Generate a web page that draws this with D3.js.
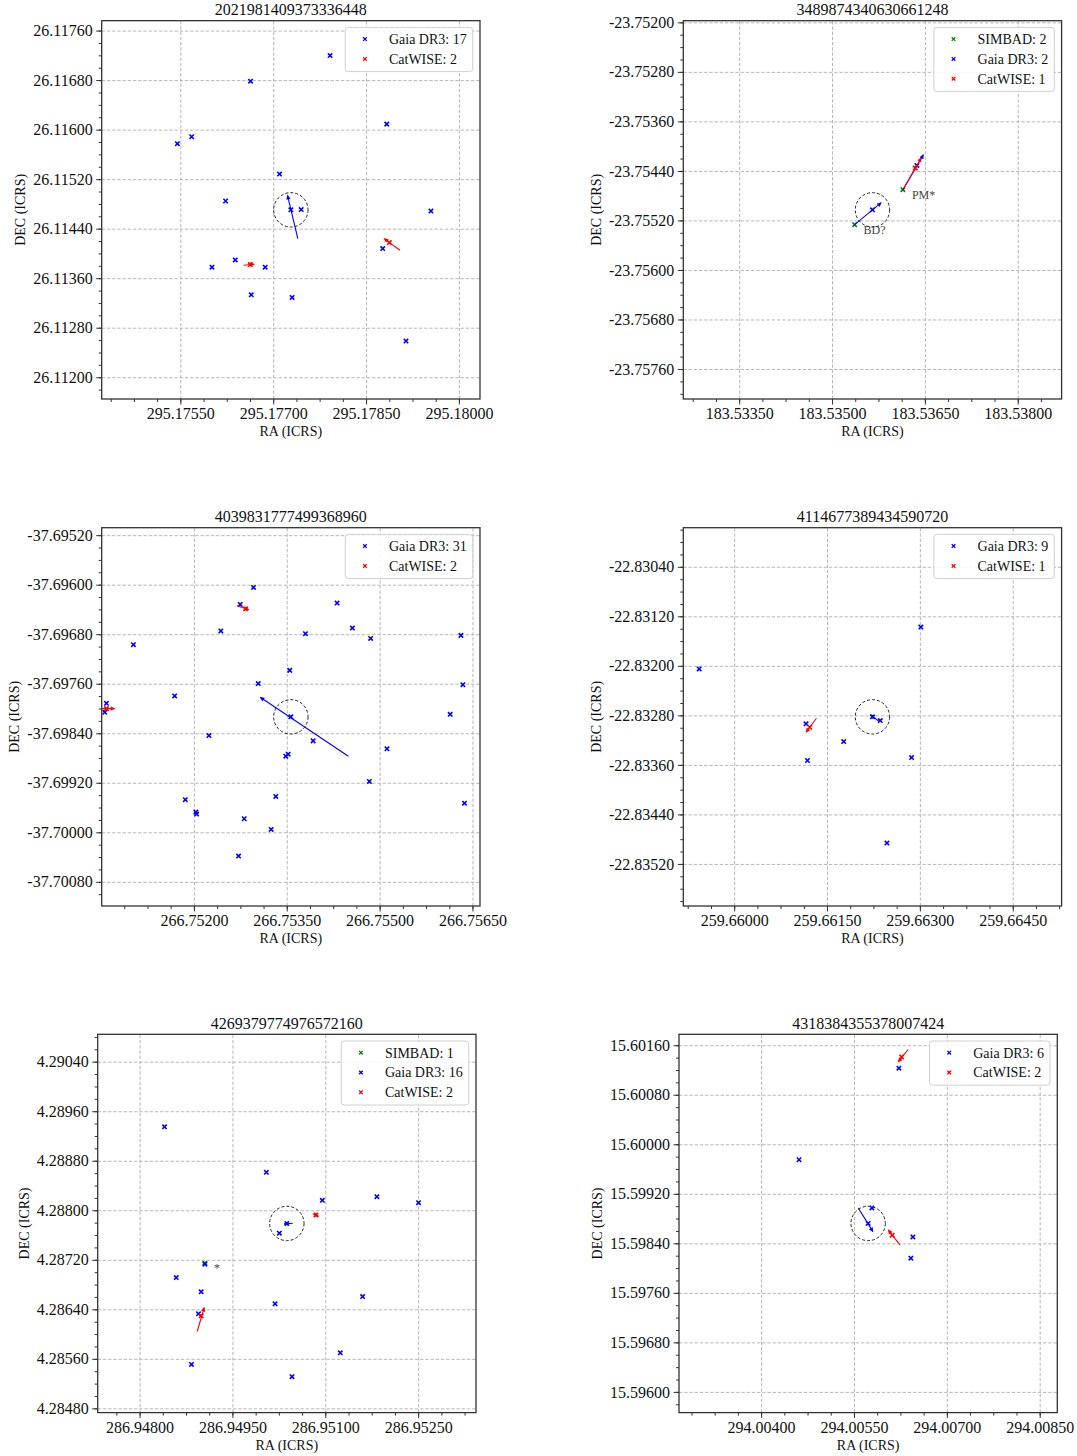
<!DOCTYPE html>
<html>
<head>
<meta charset="utf-8">
<script src="https://cdn.jsdelivr.net/npm/d3@7"></script>
<style>
  body { margin: 0; background: #fff; }
  svg { display: block; }
</style>
</head>
<body>
<svg id="fig" width="1077" height="1456"></svg>
<script>
// Target sources (Gaia DR3 source_id and position); each panel is centred on one.
const targets = [
  { id: "2021981409373336448", ra: 295.177285, dec: 26.114704 },
  { id: "3489874340630661248", ra: 183.535653, dec: -23.755029 },
  { id: "4039831777499368960", ra: 266.753566, dec: -37.698135 },
  { id: "4114677389434590720", ra: 259.662234, dec: -22.832824 },
  { id: "4269379774976572160", ra: 286.950379, dec: 4.287787 },
  { id: "4318384355378007424", ra: 294.005729, dec: 15.598721 }
];

// Labelled RA ticks for each panel (DEC ticks fall on multiples of 0.0008)
const raTicks = [
  [295.1755, 295.1770, 295.1785, 295.1800],
  [183.5335, 183.5350, 183.5365, 183.5380],
  [266.7520, 266.7535, 266.7550, 266.7565],
  [259.6600, 259.6615, 259.6630, 259.6645],
  [286.9480, 286.9495, 286.9510, 286.9525],
  [294.0040, 294.0055, 294.0070, 294.0085]
];

// SIMBAD objects: [ra, dec, object type]
const simbadSources = {
  "3489874340630661248": [[183.535365, -23.755268, "BD?"], [183.536145, -23.754703, "PM*"]],
  "4269379774976572160": [[286.949055, 4.287145, "*"]]
};

// Gaia DR3 neighbours: [ra, dec]
const gaiaSources = {
  "2021981409373336448": [
    [295.177919, 26.117197], [295.176634, 26.116783], [295.178834, 26.116089],
    [295.175683, 26.115885], [295.175452, 26.115772], [295.177102, 26.115282],
    [295.176231, 26.114847], [295.177285, 26.114704], [295.177452, 26.114708],
    [295.179548, 26.114685], [295.178769, 26.114079], [295.176387, 26.113895],
    [295.176011, 26.113777], [295.176871, 26.113777], [295.176645, 26.113331],
    [295.177306, 26.113289], [295.179145, 26.112584]
  ],
  "3489874340630661248": [
    [183.535653, -23.755029], [183.536371, -23.754311]
  ],
  "4039831777499368960": [
    [266.752963, -37.696045], [266.752748, -37.696319], [266.754313, -37.696297],
    [266.752435, -37.696748], [266.753802, -37.696792], [266.754560, -37.696700],
    [266.754855, -37.696868], [266.756313, -37.696819], [266.751023, -37.696969],
    [266.753548, -37.697384], [266.753039, -37.697598], [266.756345, -37.697615],
    [266.751689, -37.697797], [266.750587, -37.697916], [266.750560, -37.698061],
    [266.753566, -37.698135], [266.756140, -37.698094], [266.752242, -37.698437],
    [266.753926, -37.698523], [266.755119, -37.698652], [266.753484, -37.698771],
    [266.753523, -37.698739], [266.754834, -37.699179], [266.751861, -37.699474],
    [266.753323, -37.699421], [266.756371, -37.699529], [266.752032, -37.699674],
    [266.752044, -37.699706], [266.752813, -37.699781], [266.753248, -37.699953],
    [266.752721, -37.700384]
  ],
  "4114677389434590720": [
    [259.659435, -22.832050], [259.663016, -22.831373], [259.661161, -22.832937],
    [259.661184, -22.833529], [259.661769, -22.833223], [259.662234, -22.832824],
    [259.662361, -22.832884], [259.662866, -22.833481], [259.662468, -22.834863]
  ],
  "4269379774976572160": [
    [286.948403, 4.289348], [286.950048, 4.288613], [286.950952, 4.288161],
    [286.951834, 4.288219], [286.952506, 4.288123], [286.950379, 4.287787],
    [286.950258, 4.287629], [286.949055, 4.287129], [286.948592, 4.286913],
    [286.948995, 4.286682], [286.950189, 4.286489], [286.951603, 4.286606],
    [286.948952, 4.286327], [286.948839, 4.285510], [286.951242, 4.285698],
    [286.950463, 4.285311]
  ],
  "4318384355378007424": [
    [294.006226, 15.601229], [294.004613, 15.599750], [294.005790, 15.598971],
    [294.005729, 15.598721], [294.006452, 15.598503], [294.006419, 15.598160]
  ]
};

// CatWISE neighbours: [ra, dec]
const catwiseSources = {
  "2021981409373336448": [[295.178876, 26.114176], [295.176629, 26.113821]],
  "3489874340630661248": [[183.536344, -23.754355]],
  "4039831777499368960": [[266.752834, -37.696389], [266.750587, -37.698002]],
  "4114677389434590720": [[259.661221, -22.832992]],
  "4269379774976572160": [[286.950850, 4.287924], [286.948995, 4.286295]],
  "4318384355378007424": [[294.006269, 15.601411], [294.006118, 15.598531]]
};

// Proper-motion tracks: [ra_from, dec_from, ra_to, dec_to], arrow at the "to" end
const gaiaMotion = {
  "2021981409373336448": [[295.177398, 26.114240, 295.177231, 26.114939]],
  "3489874340630661248": [
    [183.535365, -23.755268, 183.535795, -23.754913],
    [183.536145, -23.754703, 183.536477, -23.754139]
  ],
  "4039831777499368960": [[266.754495, -37.698771, 266.753071, -37.697819]],
  "4114677389434590720": [[259.662339, -22.832895, 259.662205, -22.832792]],
  "4269379774976572160": [[286.950474, 4.287790, 286.950334, 4.287779]],
  "4318384355378007424": [[294.005569, 15.598971, 294.005806, 15.598589]]
};
const catwiseMotion = {
  "2021981409373336448": [
    [295.179048, 26.114052, 295.178790, 26.114240],
    [295.176521, 26.113810, 295.176694, 26.113826]
  ],
  "3489874340630661248": [[183.536160, -23.754680, 183.536440, -23.754190]],
  "4039831777499368960": [
    [266.752694, -37.696340, 266.752887, -37.696405],
    [266.750400, -37.698002, 266.750721, -37.698002]
  ],
  "4114677389434590720": [[259.661329, -22.832847, 259.661161, -22.833073]],
  "4269379774976572160": [
    [286.948931, 4.286042, 286.949044, 4.286429],
    [286.950800, 4.287940, 286.950890, 4.287905]
  ],
  "4318384355378007424": [
    [294.006376, 15.601531, 294.006215, 15.601331],
    [294.006242, 15.598374, 294.006053, 15.598616]
  ]
};

// ---- drawing -------------------------------------------------------------
const SIZE = 378.3;                 // square plot area, px
const HALF = 11 / 3600;             // half field of view, deg
const MATCH_R = 1 / 3600;           // match circle radius, deg
const X_MINOR = 0.000375;
const Y_MAJOR = 0.0008, Y_MINOR = 0.0002;
const FONT = "'Liberation Serif', 'Times New Roman', serif";
const frames = [[101.7, 20.7], [683.3, 20.7], [101.7, 527.7], [683.3, 527.7], [97.7, 1034.3], [679, 1034.3]];
const catalogs = [
  { key: "SIMBAD", label: "SIMBAD", color: "#008000", src: simbadSources, motion: null },
  { key: "Gaia", label: "Gaia DR3", color: "#0000ff", src: gaiaSources, motion: gaiaMotion },
  { key: "CatWISE", label: "CatWISE", color: "#ff0000", src: catwiseSources, motion: catwiseMotion }
];

const svg = d3.select("#fig");
const defs = svg.append("defs");
catalogs.forEach(c => {
  defs.append("marker")
    .attr("id", "arrow-" + c.key)
    .attr("viewBox", "0 0 10 10")
    .attr("refX", 9).attr("refY", 5)
    .attr("markerUnits", "userSpaceOnUse")
    .attr("markerWidth", 5).attr("markerHeight", 4.5)
    .attr("orient", "auto")
    .append("path").attr("d", "M0,0L10,5L0,10Z").attr("fill", c.color);
});

function stepTicks(lo, hi, step) {
  const a = Math.ceil(lo / step - 1e-7), b = Math.floor(hi / step + 1e-7);
  return d3.range(a, b + 1).map(i => i * step);
}
function anchoredTicks(anchor, lo, hi, step) {
  const a = Math.ceil((lo - anchor) / step - 1e-7), b = Math.floor((hi - anchor) / step + 1e-7);
  return d3.range(a, b + 1).map(k => anchor + k * step);
}
function cross(r) { return `M${-r},${-r}L${r},${r}M${-r},${r}L${r},${-r}`; }

targets.forEach((t, i) => {
  const [L, T] = frames[i];
  const g = svg.append("g").attr("transform", `translate(${L},${T})`);
  const x = d3.scaleLinear().domain([t.ra - HALF, t.ra + HALF]).range([0, SIZE]);
  const y = d3.scaleLinear().domain([t.dec - HALF, t.dec + HALF]).range([SIZE, 0]);
  const xMaj = raTicks[i];
  const xMin = anchoredTicks(xMaj[0], t.ra - HALF, t.ra + HALF, X_MINOR);
  const yMaj = stepTicks(t.dec - HALF, t.dec + HALF, Y_MAJOR);
  const yMin = stepTicks(t.dec - HALF, t.dec + HALF, Y_MINOR);

  const clipId = "clip" + i;
  defs.append("clipPath").attr("id", clipId)
    .append("rect").attr("width", SIZE).attr("height", SIZE);

  // grid
  const grid = g.append("g").attr("class", "grid");
  grid.append("g").attr("transform", `translate(0,${SIZE})`)
    .call(d3.axisBottom(x).tickValues(xMaj).tickSize(-SIZE).tickFormat(""));
  grid.append("g")
    .call(d3.axisLeft(y).tickValues(yMaj).tickSize(-SIZE).tickFormat(""));
  grid.selectAll(".domain").remove();
  grid.selectAll(".tick line")
    .attr("stroke", "#b0b0b0").attr("stroke-width", 0.9).attr("stroke-dasharray", "3.4,1.8");

  // axes: minor then major ticks, outward
  const axes = g.append("g");
  axes.append("g").attr("transform", `translate(0,${SIZE})`)
    .call(d3.axisBottom(x).tickValues(xMin).tickSize(3).tickFormat(""));
  axes.append("g")
    .call(d3.axisLeft(y).tickValues(yMin).tickSize(3).tickFormat(""));
  axes.append("g").attr("transform", `translate(0,${SIZE})`)
    .call(d3.axisBottom(x).tickValues(xMaj).tickSize(5.5).tickPadding(3.5).tickFormat(d => d.toFixed(5)));
  const ya = axes.append("g")
    .call(d3.axisLeft(y).tickValues(yMaj).tickSize(5.5).tickPadding(3.5).tickFormat(d => d.toFixed(5)));
  axes.selectAll(".domain").remove();
  axes.selectAll(".tick line").attr("stroke", "#333").attr("stroke-width", 1);
  axes.selectAll(".tick text").attr("font-family", FONT).attr("font-size", 16).attr("fill", "#111");

  // content
  const plot = g.append("g").attr("clip-path", `url(#${clipId})`);
  catalogs.forEach(c => {
    const tracks = c.motion ? (c.motion[t.id] || []) : [];
    plot.append("g").selectAll("line").data(tracks).join("line")
      .attr("x1", d => x(d[0])).attr("y1", d => y(d[1]))
      .attr("x2", d => x(d[2])).attr("y2", d => y(d[3]))
      .attr("stroke", c.color).attr("stroke-width", 1.1)
      .attr("marker-end", `url(#arrow-${c.key})`);
    const pts = c.src[t.id] || [];
    plot.append("g").selectAll("path").data(pts).join("path")
      .attr("transform", d => `translate(${x(d[0])},${y(d[1])})`)
      .attr("d", cross(2.2))
      .attr("stroke", c.color).attr("stroke-width", 1.6).attr("fill", "none");
  });
  // SIMBAD object types
  plot.append("g").selectAll("text").data(simbadSources[t.id] || []).join("text")
    .attr("x", d => x(d[0]) + 9).attr("y", d => y(d[1]) + 9)
    .attr("font-family", FONT).attr("font-size", 12).attr("fill", "#444")
    .text(d => d[2]);

  // match circle around the target
  plot.append("circle")
    .attr("cx", x(t.ra)).attr("cy", y(t.dec))
    .attr("r", Math.abs(y(t.dec + MATCH_R) - y(t.dec)))
    .attr("fill", "none").attr("stroke", "#222").attr("stroke-width", 1)
    .attr("stroke-dasharray", "3,2");

  // frame
  g.append("rect").attr("width", SIZE).attr("height", SIZE)
    .attr("fill", "none").attr("stroke", "#333").attr("stroke-width", 1.3);

  // legend
  const present = catalogs.filter(c => (c.src[t.id] || []).length > 0);
  const lg = g.append("g");
  const box = lg.append("rect");
  const texts = present.map((c, k) => lg.append("text")
    .attr("font-family", FONT).attr("font-size", 14).attr("fill", "#111")
    .attr("y", 6.7 + 11.7 + k * 19.8 + 5)
    .text(`${c.label}: ${c.src[t.id].length}`));
  const maxW = d3.max(texts, s => s.node().getComputedTextLength());
  const right = SIZE - 7.3;
  const textX = right - 6 - maxW;
  const markX = textX - 24;
  const left = markX - 19.7;
  texts.forEach(s => s.attr("x", textX));
  present.forEach((c, k) => lg.append("path")
    .attr("transform", `translate(${markX},${6.7 + 11.7 + k * 19.8})`)
    .attr("d", cross(1.8)).attr("stroke", c.color).attr("stroke-width", 1.3).attr("fill", "none"));
  box.attr("x", left).attr("y", 6.7)
    .attr("width", right - left).attr("height", 11.7 + 12.7 + (present.length - 1) * 19.8)
    .attr("rx", 3).attr("fill", "#fff").attr("fill-opacity", 0.85)
    .attr("stroke", "#d0d0d0").attr("stroke-width", 1);

  // title and axis labels
  g.append("text").attr("x", SIZE / 2).attr("y", -5.5).attr("text-anchor", "middle")
    .attr("font-family", FONT).attr("font-size", 16).attr("fill", "#111").text(t.id);
  g.append("text").attr("x", SIZE / 2).attr("y", SIZE + 37).attr("text-anchor", "middle")
    .attr("font-family", FONT).attr("font-size", 14).attr("fill", "#111").text("RA (ICRS)");
  const tickW = d3.max(ya.selectAll(".tick text").nodes(), n => n.getComputedTextLength());
  const ylx = -9 - tickW - 13;
  g.append("text").attr("transform", `translate(${ylx},${SIZE / 2}) rotate(-90)`)
    .attr("text-anchor", "middle").attr("dy", "0.35em")
    .attr("font-family", FONT).attr("font-size", 14).attr("fill", "#111").text("DEC (ICRS)");
});
</script>
</body>
</html>
